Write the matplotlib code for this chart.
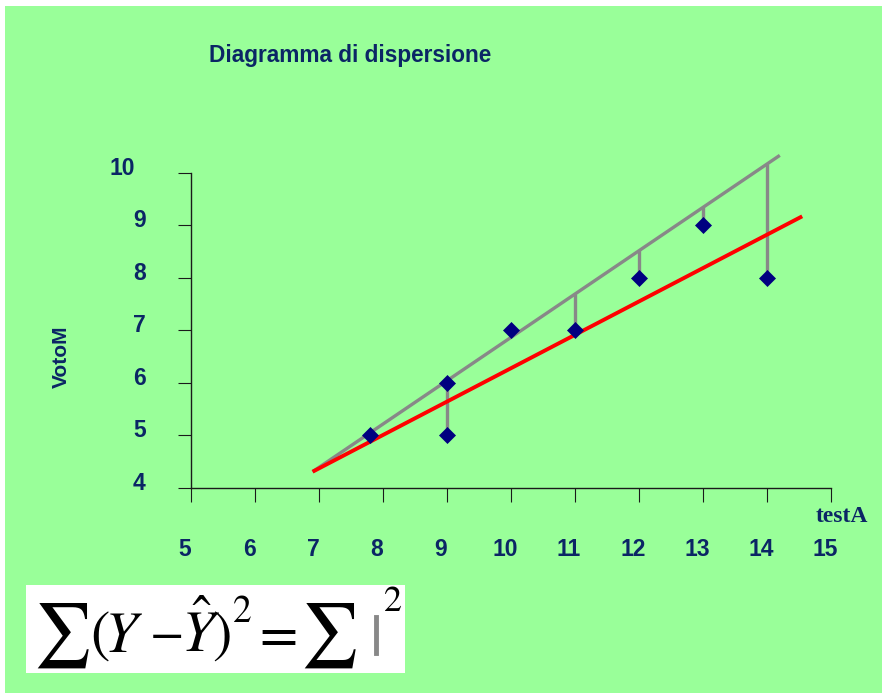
import matplotlib
matplotlib.use('Agg')
import matplotlib.pyplot as plt
import matplotlib.transforms as mtransforms
from matplotlib.patches import Rectangle

# scatter data
testA = [7.8, 9, 9, 10, 11, 12, 13, 14]
votoM = [5, 6, 5, 7, 7, 8, 9, 8]

# grey line through the points and red regression line (end points)
grey_x = [6.9, 14.2]
grey_y = [4.31, 10.33]
red_x = [6.9, 14.55]
red_y = [4.31, 9.17]

# residual segments from the points up to the grey line
res_x = [9, 11, 12, 13, 14]
res_lo = [5, 7, 8, 9, 8]
res_hi = [6.0, 7.7, 8.52, 9.35, 10.17]

xticks = [5, 6, 7, 8, 9, 10, 11, 12, 13, 14, 15]
yticks = [4, 5, 6, 7, 8, 9, 10]

navy = '#0B2665'
green = '#99FF99'
W, H = 882, 693

plt.rcParams['mathtext.fontset'] = 'stix'

fig = plt.figure(figsize=(W / 100, H / 100), dpi=100)
fig.add_artist(Rectangle((5 / W, 0), 1, 1 - 6 / H, transform=fig.transFigure,
                         facecolor=green, edgecolor='none', zorder=-10))

ax = fig.add_axes([191 / W, 205 / H, 640 / W, 315.3 / H])
ax.set_facecolor('none')
ax.set_xlim(5, 15)
ax.set_ylim(4, 10)

ax.plot(grey_x, grey_y, color='#888888', lw=2.4, clip_on=False, solid_capstyle='butt', zorder=2)
ax.plot(red_x, red_y, color='#FF0000', lw=2.8, clip_on=False, solid_capstyle='butt', zorder=3)
ax.vlines(res_x, res_lo, res_hi, color='#888888', lw=2.4, clip_on=False, zorder=2)
ax.plot(testA, votoM, 'D', color='#000080', ms=8, mew=0.5, clip_on=False, zorder=4)

for s in ['top', 'right']:
    ax.spines[s].set_visible(False)
for s in ['left', 'bottom']:
    ax.spines[s].set_color('#1a1a1a')
    ax.spines[s].set_linewidth(1)

tick_font = dict(family='Liberation Sans', weight='bold', size=16.5)
ax.set_xticks(xticks)
ax.set_yticks(yticks)
ax.set_xticklabels([str(v) for v in xticks], color=navy, **tick_font)
ax.set_yticklabels([str(v) for v in yticks], color=navy, **tick_font)
ax.tick_params(axis='x', direction='out', length=10, width=0.8, color='#1a1a1a', pad=26)
ax.tick_params(axis='y', direction='out', length=9.5, width=0.8, color='#1a1a1a', pad=23)

for t in ax.xaxis.get_major_ticks():
    t.label1.set_transform(t.label1.get_transform() +
                           mtransforms.ScaledTranslation(-0.06, 0, fig.dpi_scale_trans))
for t, v in zip(ax.yaxis.get_major_ticks(), yticks):
    dx = -0.11 if v == 10 else 0
    t.label1.set_transform(t.label1.get_transform() +
                           mtransforms.ScaledTranslation(dx, 0.07, fig.dpi_scale_trans))

fig.text(209 / W, 1 - 62 / H, 'Diagramma di dispersione', color=navy,
         family='Liberation Sans', weight='bold', size=16.3, ha='left', va='baseline')
fig.text(61 / W, 1 - 357 / H, 'VotoM', color=navy, family='Liberation Sans',
         weight='bold', size=15, rotation=90, ha='center', va='center')
fig.text(816 / W, 1 - 522 / H, 'testA', color=navy, family='Liberation Serif',
         weight='bold', size=17, ha='left', va='baseline')

# formula box: sum (Y - Y^)^2 = sum |^2
fig.add_artist(Rectangle((26 / W, 20 / H), 379 / W, 88 / H, transform=fig.transFigure,
                         facecolor='white', edgecolor='none', zorder=5))
base = 1 - 652 / H
formula = [(33, r'$\sum$', 46, base, 'normal'),
           (90, '(', 42, base, 'normal'),
           (104, 'Y', 42, base, 'italic'),
           (150, '\u2212', 36, 1 - 649 / H, 'normal'),
           (181, r'$\hat{Y}$', 42, base, 'normal'),
           (212, ')', 42, base, 'normal'),
           (233, '2', 27, 1 - 622 / H, 'normal'),
           (259, '=', 40, base, 'normal'),
           (300, r'$\sum$', 46, base, 'normal'),
           (384, '2', 26, 1 - 611 / H, 'normal')]
for x, s, size, y, style in formula:
    fig.text(x / W, y, s, color='black', family='STIXGeneral', style=style,
             size=size, ha='left', va='baseline', zorder=6)
fig.add_artist(plt.Line2D([375.5 / W, 375.5 / W], [1 - 653 / H, 1 - 617 / H],
                          transform=fig.transFigure, color='#888888', lw=3.5, zorder=6))

fig.savefig('out.png', dpi=100, facecolor='white')
